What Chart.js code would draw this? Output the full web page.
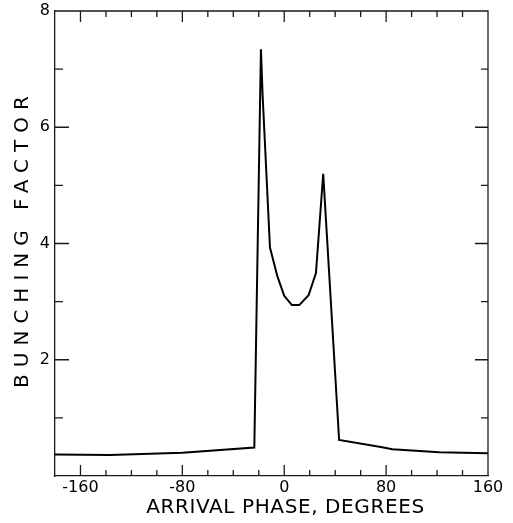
<!DOCTYPE html>
<html>
<head>
<meta charset="utf-8">
<script src="https://cdn.jsdelivr.net/npm/chart.js@4/dist/chart.umd.min.js"></script>
<style>
  html, body { margin: 0; padding: 0; background: #fff; }
  #wrap { width: 513px; height: 523px; }
</style>
</head>
<body>
<div id="wrap"><canvas id="c" width="513" height="523"></canvas></div>
<script>
// Data
const phase    = [-180, -137, -80, -23.5, -18.3, -17.0, -11.2, -5.3, 0, 6.0, 11.8, 19.1, 24.9, 30.6, 43.1, 75.8, 84.9, 121.6, 160];
const bunching = [0.37, 0.36, 0.40, 0.49, 7.34, 6.56, 3.93, 3.43, 3.10, 2.94, 2.94, 3.11, 3.49, 5.20, 0.62, 0.50, 0.46, 0.41, 0.39];
const xLabels = [-160, -80, 0, 80, 160];
const yLabels = [2, 4, 6, 8];
const xTitle = 'ARRIVAL PHASE, DEGREES';
const yTitle = 'BUNCHING FACTOR';

const points = phase.map((p, i) => ({ x: p, y: bunching[i] }));
const FONT = 'DejaVu Sans';
const AXIS = '#1a1a1a';

function wrapTitle(chart, scale, spacing, dx, dy) {
  if (scale._lsWrapped) return;
  const o = scale.drawTitle.bind(scale);
  scale.drawTitle = function () {
    const c = chart.ctx;
    c.save();
    c.letterSpacing = spacing;
    c.translate(dx, dy);
    o();
    c.restore();
  };
  scale._lsWrapped = true;
}

// inward tick marks on all four sides, positioned through the chart's scales
const tickPlugin = {
  id: 'inwardTicks',
  beforeDraw(chart) {
    wrapTitle(chart, chart.scales.y, '7px', 0, -5);
    wrapTitle(chart, chart.scales.x, '0.6px', 14, 0);
  },
  afterDraw(chart) {
    const ctx = chart.ctx, a = chart.chartArea;
    const sx = chart.scales.x, sy = chart.scales.y;
    ctx.save();
    ctx.strokeStyle = AXIS;
    ctx.lineWidth = 1.3;
    ctx.beginPath();
    ctx.moveTo(a.left, a.top); ctx.lineTo(a.right, a.top); ctx.lineTo(a.right, a.bottom);
    ctx.stroke();
    ctx.beginPath();
    sx.ticks.forEach(t => {
      if (t.value <= sx.min || t.value >= sx.max) return;
      const px = sx.getPixelForValue(t.value);
      const long = xLabels.includes(t.value);
      ctx.moveTo(px, a.bottom); ctx.lineTo(px, a.bottom - (long ? 11 : 6));
      ctx.moveTo(px, a.top); ctx.lineTo(px, a.top + (long ? 11 : 6));
    });
    sy.ticks.forEach(t => {
      if (t.value <= sy.min || t.value >= sy.max) return;
      const py = sy.getPixelForValue(t.value);
      const long = yLabels.includes(t.value);
      ctx.moveTo(a.left, py); ctx.lineTo(a.left + (long ? 14 : 8), py);
      ctx.moveTo(a.right, py); ctx.lineTo(a.right - (long ? 13 : 7), py);
    });
    ctx.stroke();
    ctx.restore();
  }
};

new Chart(document.getElementById('c'), {
  type: 'line',
  data: {
    datasets: [{
      data: points,
      borderColor: '#000',
      borderWidth: 2,
      pointRadius: 0,
      tension: 0,
      fill: false
    }]
  },
  options: {
    responsive: false,
    animation: false,
    events: [],
    layout: { padding: { top: 11, right: 25, left: 0, bottom: 3 } },
    plugins: { legend: { display: false }, tooltip: { enabled: false } },
    scales: {
      x: {
        type: 'linear',
        position: 'bottom',
        min: -180, max: 160,
        afterFit: s => { s.height = 44; },
        ticks: {
          stepSize: 20,
          autoSkip: false,
          maxRotation: 0,
          padding: 2,
          color: '#000',
          font: { family: FONT, size: 16 },
          callback: v => xLabels.includes(v) ? String(v) : ''
        },
        grid: { display: true, drawOnChartArea: false, drawTicks: false },
        border: { display: true, color: AXIS, width: 1.3 },
        title: {
          display: true, text: xTitle, color: '#000',
          font: { family: FONT, size: 20 }, padding: 0
        }
      },
      y: {
        type: 'linear',
        position: 'left',
        min: 0, max: 8,
        afterFit: s => { s.width = 55; s.paddingTop = 0; s.paddingBottom = 0; },
        ticks: {
          stepSize: 1,
          autoSkip: false,
          padding: 5,
          color: '#000',
          font: { family: FONT, size: 16 },
          callback: v => yLabels.includes(v) ? String(v) : ''
        },
        grid: { display: true, drawOnChartArea: false, drawTicks: false },
        border: { display: true, color: AXIS, width: 1.3 },
        title: {
          display: true, text: yTitle, color: '#000',
          font: { family: FONT, size: 20 }, padding: { top: 11, bottom: 0 }
        }
      }
    }
  },
  plugins: [tickPlugin]
});
</script>
</body>
</html>
